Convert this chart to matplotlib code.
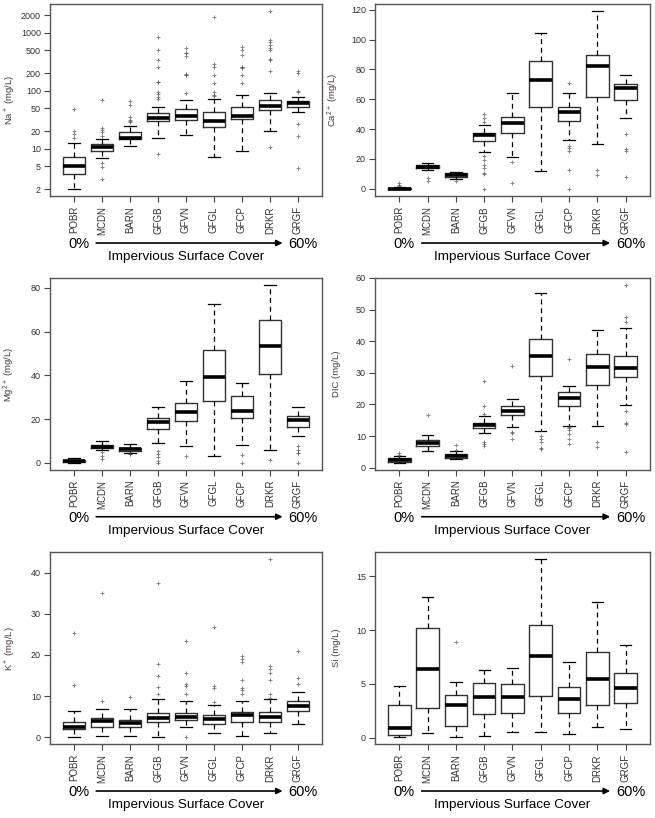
import matplotlib
matplotlib.use('Agg')
import matplotlib.pyplot as plt
from matplotlib.ticker import FixedLocator, FixedFormatter, NullLocator

plt.rcParams['font.family'] = ['Liberation Sans', 'DejaVu Sans']
plt.rcParams['mathtext.default'] = 'regular'

sites = ['POBR', 'MCDN', 'BARN', 'GFGB', 'GFVN', 'GFGL', 'GFCP', 'DRKR', 'GRGF']

# Na+ (log scale)
na_lo = [2.0, 6.9, 11.2, 15.0, 17.4, 7.1, 9.1, 20.2, 43.5]
na_q1 = [3.7, 9.2, 14.5, 29.6, 31.7, 23.6, 33.0, 46.0, 53.0]
na_med = [5.0, 10.5, 15.5, 33.9, 36.2, 29.6, 37.0, 55.0, 60.7]
na_q3 = [7.1, 12.0, 19.6, 40.8, 48.4, 43.0, 52.5, 69.0, 67.6]
na_hi = [12.5, 14.9, 24.3, 53.0, 70.0, 72.0, 85.0, 93.0, 79.0]
na_out = [[15.2, 17.9, 19.9, 49.0],
          [3.0, 4.9, 5.6, 16.8, 19.4, 21.0, 22.7, 68.6],
          [28.5, 29.6, 31.7, 34.8, 57.7, 67.6],
          [8.05, 73, 79, 88, 95, 140, 144, 255, 333, 502, 843],
          [91.6, 185, 190, 195, 395, 445, 455, 551],
          [81, 83, 95, 136, 185, 284, 260, 1890],
          [136, 190, 248, 253, 258, 417, 496, 566],
          [10.5, 223, 340, 346, 496, 551, 612, 681, 738, 2350],
          [4.7, 16.7, 26.6, 96, 99, 198, 223]]

# Ca2+
ca_lo = [-0.4, 12.8, 6.7, 24.6, 21.2, 11.6, 32.8, 29.7, 47.6]
ca_q1 = [-0.2, 13.9, 7.8, 31.7, 37.5, 55.0, 45.1, 61.7, 59.2]
ca_med = [0.0, 14.7, 9.0, 35.8, 44.2, 72.6, 51.2, 82.0, 67.7]
ca_q3 = [0.3, 15.6, 10.3, 37.5, 48.0, 85.6, 54.7, 89.6, 70.4]
ca_hi = [0.9, 17.2, 11.2, 42.7, 64.4, 104.4, 64.4, 119.1, 76.2]
ca_out = [[1.5, 2.5, 3.5],
          [4.9, 7.2],
          [4.8],
          [0.0, 9.5, 10.5, 13.5, 16.0, 19.0, 22.0, 45.0, 47.5, 50.0],
          [4.0, 18.0],
          [],
          [0.0, 12.5, 25.5, 27.0, 28.5, 70.6],
          [9.0, 12.5],
          [7.6, 25.0, 26.5, 36.5]]

# Mg2+
mg_lo = [0.0, 5.7, 4.3, 8.9, 7.6, 3.2, 8.4, 6.1, 12.4]
mg_q1 = [0.3, 6.6, 5.5, 15.4, 19.3, 28.1, 20.6, 40.5, 16.5]
mg_med = [0.8, 7.3, 6.4, 18.5, 23.1, 39.4, 23.7, 53.2, 19.6]
mg_q3 = [1.5, 8.3, 7.0, 20.6, 27.5, 51.4, 30.6, 65.4, 21.6]
mg_hi = [2.3, 9.8, 8.7, 25.7, 37.5, 72.8, 36.7, 81.3, 25.7]
mg_out = [[],
          [2.0, 3.0, 5.0],
          [3.9, 4.0],
          [0.0, 1.0, 2.5, 4.0, 5.5],
          [3.2],
          [],
          [0.0, 3.6],
          [1.5],
          [0.0, 4.5, 4.7, 6.0, 7.5]]

# DIC
dic_lo = [1.5, 5.3, 2.8, 11.0, 12.7, 11.6, 13.1, 13.3, 19.9]
dic_q1 = [1.9, 7.0, 3.1, 12.5, 16.5, 28.9, 19.5, 26.0, 28.6]
dic_med = [2.45, 7.9, 3.7, 13.4, 18.0, 35.4, 22.1, 31.8, 31.5]
dic_q3 = [2.9, 8.8, 4.4, 14.2, 19.5, 40.7, 23.8, 35.8, 35.3]
dic_hi = [3.6, 10.4, 5.2, 16.4, 21.8, 55.3, 25.9, 43.5, 44.3]
dic_out = [[4.0, 4.5],
           [16.8],
           [5.5, 7.3],
           [7.0, 7.5, 8.0, 17.0, 19.5, 27.5],
           [9.0, 11.0, 11.3, 32.0],
           [6.0, 6.3, 8.0, 9.0, 10.0],
           [7.5, 9.0, 10.5, 12.0, 12.5, 13.0, 34.5],
           [6.5, 8.0],
           [5.0, 13.8, 14.0, 18.0, 46.0, 47.5, 57.8]]

# K+
k_lo = [0.0, 0.4, 0.25, 0.0, 2.5, 1.1, 0.4, 1.1, 3.1]
k_q1 = [1.9, 2.4, 2.4, 3.7, 4.2, 3.3, 3.7, 3.7, 6.4]
k_med = [2.5, 4.0, 3.4, 4.7, 5.0, 4.4, 5.4, 4.9, 7.7]
k_q3 = [3.7, 4.7, 4.3, 6.0, 5.9, 5.3, 6.1, 6.1, 8.9]
k_hi = [6.3, 6.9, 6.9, 9.3, 8.7, 7.9, 8.7, 9.4, 10.9]
k_out = [[12.6, 25.4],
         [8.8, 35.0],
         [9.7],
         [10.4, 12.3, 15.0, 17.8, 37.6],
         [0.0, 10.5, 12.5, 13.0, 15.5, 23.5],
         [8.5, 12.0, 12.5, 26.8],
         [10.5, 11.5, 12.0, 14.0, 18.4, 19.0, 19.8],
         [9.6, 10.5, 14.0, 15.5, 16.5, 17.2, 43.3],
         [13.0, 14.5, 21.0]]

# Si
si_lo = [0.06, 0.4, 0.05, 0.2, 0.5, 0.56, 0.3, 1.0, 0.85]
si_q1 = [0.22, 2.8, 1.07, 2.2, 2.3, 3.9, 2.3, 3.0, 3.2]
si_med = [0.94, 6.35, 3.05, 3.8, 3.8, 7.6, 3.6, 5.5, 4.66]
si_q3 = [3.05, 10.2, 4.0, 5.1, 5.0, 10.5, 4.75, 8.0, 6.0]
si_hi = [4.8, 13.1, 5.2, 6.3, 6.5, 16.6, 7.0, 12.6, 8.6]
si_out = [[], [], [8.9], [], [], [], [], [], []]

panels = [
    (na_lo, na_q1, na_med, na_q3, na_hi, na_out, r'Na$^+$ (mg/L)',
     [2, 5, 10, 20, 50, 100, 200, 500, 1000, 2000], True),
    (ca_lo, ca_q1, ca_med, ca_q3, ca_hi, ca_out, r'Ca$^{2+}$ (mg/L)',
     [0, 20, 40, 60, 80, 100, 120], False),
    (mg_lo, mg_q1, mg_med, mg_q3, mg_hi, mg_out, r'Mg$^{2+}$ (mg/L)',
     [0, 20, 40, 60, 80], False),
    (dic_lo, dic_q1, dic_med, dic_q3, dic_hi, dic_out, 'DIC (mg/L)',
     [0, 10, 20, 30, 40, 50, 60], False),
    (k_lo, k_q1, k_med, k_q3, k_hi, k_out, r'K$^+$ (mg/L)',
     [0, 10, 20, 30, 40], False),
    (si_lo, si_q1, si_med, si_q3, si_hi, si_out, 'Si (mg/L)',
     [0, 5, 10, 15], False),
]

fig = plt.figure(figsize=(6.55, 8.18), dpi=100)
lefts = [0.0763, 0.5725]
widths = [0.4153, 0.4198]
label_x = [-0.122, -0.122]
bottoms = [0.7600, 0.4254, 0.0901]
height = 0.2350

for i, (lo, q1, med, q3, hi, out, ylab, ticks, logy) in enumerate(panels):
    col = i % 2
    row = i // 2
    ax = fig.add_axes([lefts[col], bottoms[row], widths[col], height])
    stats = []
    for j in range(len(sites)):
        stats.append(dict(whislo=lo[j], q1=q1[j], med=med[j], q3=q3[j],
                          whishi=hi[j], fliers=out[j], label=sites[j]))
    if logy:
        ax.set_yscale('log')
    ax.bxp(stats, positions=range(1, 10), widths=0.8, showfliers=True,
           boxprops=dict(color='#333333', lw=1.0),
           medianprops=dict(color='black', lw=2.6, solid_capstyle='butt'),
           whiskerprops=dict(color='black', lw=0.9, linestyle=(0, (4, 3))),
           capprops=dict(color='black', lw=0.9),
           flierprops=dict(marker='+', markersize=3.2, markeredgewidth=0.7,
                           markeredgecolor='#555555', alpha=0.7))
    ax.set_xlim(0.14, 9.86)
    ax.margins(y=0.04)
    ax.autoscale(axis='y')
    ax.yaxis.set_major_locator(FixedLocator(ticks))
    ax.yaxis.set_major_formatter(FixedFormatter([str(t) for t in ticks]))
    ax.yaxis.set_minor_locator(NullLocator())
    ax.set_xticks(range(1, 10))
    ax.set_xticklabels(sites, rotation=90, fontsize=7, color='#333333')
    ax.tick_params(axis='y', labelsize=6.5, labelcolor='#333333', length=4,
                   width=0.8, color='#444444', pad=2.5)
    ax.tick_params(axis='x', length=4, width=0.8, color='#444444', pad=3)
    for s in ax.spines.values():
        s.set_color('#555555')
        s.set_linewidth(1.0)
    ax.set_ylabel(ylab, fontsize=6.8, color='#4a3b3b')
    ax.yaxis.set_label_coords(label_x[col], 0.5)

    ax.text(0.105, -0.248, '0%', transform=ax.transAxes, fontsize=10.5,
            ha='center', va='center')
    ax.text(0.93, -0.248, '60%', transform=ax.transAxes, fontsize=10.5,
            ha='center', va='center')
    ax.annotate('', xy=(0.855, -0.243), xytext=(0.17, -0.243),
                xycoords='axes fraction', textcoords='axes fraction',
                arrowprops=dict(arrowstyle='-|>', lw=1.2, color='black',
                                mutation_scale=9, shrinkA=0, shrinkB=0))
    ax.text(0.5, -0.315, 'Impervious Surface Cover', transform=ax.transAxes,
            fontsize=9.7, ha='center', va='center')

fig.savefig('out.png', dpi=100)
